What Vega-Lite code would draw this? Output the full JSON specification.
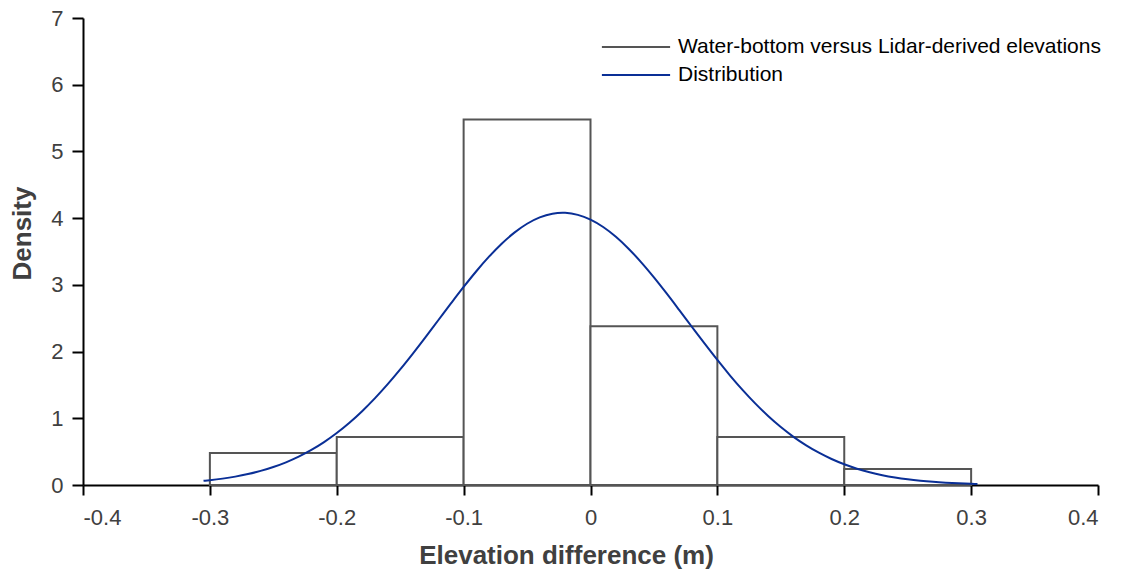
{
  "$schema": "https://vega.github.io/schema/vega-lite/v6.json",
  "autosize": "none",
  "width": 1015,
  "height": 467,
  "padding": {"left": 83, "top": 18, "right": 23, "bottom": 87},
  "background": "white",
  "config": {
    "view": {"stroke": null},
    "font": "Liberation Sans",
    "axis": {
      "grid": false,
      "domainColor": "#000000",
      "domainWidth": 2,
      "tickColor": "#000000",
      "tickWidth": 2,
      "labelFont": "Liberation Sans",
      "labelFontSize": 22,
      "labelColor": "#404040",
      "titleFont": "Liberation Sans",
      "titleFontSize": 26,
      "titleFontWeight": "bold",
      "titleColor": "#404040"
    },
    "legend": {
      "labelFont": "Liberation Sans",
      "labelFontSize": 21,
      "labelColor": "#000000",
      "labelLimit": 600
    }
  },
  "datasets": {
    "bins": [
      {"bin_start": -0.3, "bin_end": -0.2, "density": 0.48},
      {"bin_start": -0.2, "bin_end": -0.1, "density": 0.72},
      {"bin_start": -0.1, "bin_end": 0.0, "density": 5.48},
      {"bin_start": 0.0, "bin_end": 0.1, "density": 2.38},
      {"bin_start": 0.1, "bin_end": 0.2, "density": 0.72},
      {"bin_start": 0.2, "bin_end": 0.3, "density": 0.24}
    ],
    "curve": [
      {"x": -0.305, "density": 0.0620},
      {"x": -0.30, "density": 0.0718},
      {"x": -0.29, "density": 0.0955},
      {"x": -0.28, "density": 0.1257},
      {"x": -0.27, "density": 0.1638},
      {"x": -0.26, "density": 0.2112},
      {"x": -0.25, "density": 0.2694},
      {"x": -0.24, "density": 0.3401},
      {"x": -0.23, "density": 0.4250},
      {"x": -0.22, "density": 0.5256},
      {"x": -0.21, "density": 0.6431},
      {"x": -0.20, "density": 0.7787},
      {"x": -0.19, "density": 0.9329},
      {"x": -0.18, "density": 1.1063},
      {"x": -0.17, "density": 1.2984},
      {"x": -0.16, "density": 1.5076},
      {"x": -0.15, "density": 1.7326},
      {"x": -0.14, "density": 1.9704},
      {"x": -0.13, "density": 2.2176},
      {"x": -0.12, "density": 2.4696},
      {"x": -0.11, "density": 2.7216},
      {"x": -0.10, "density": 2.9686},
      {"x": -0.09, "density": 3.2040},
      {"x": -0.08, "density": 3.4221},
      {"x": -0.07, "density": 3.6170},
      {"x": -0.06, "density": 3.7833},
      {"x": -0.05, "density": 3.9162},
      {"x": -0.04, "density": 4.0115},
      {"x": -0.03, "density": 4.0664},
      {"x": -0.022, "density": 4.0800},
      {"x": -0.02, "density": 4.0791},
      {"x": -0.01, "density": 4.0494},
      {"x": 0.00, "density": 3.9781},
      {"x": 0.01, "density": 3.8674},
      {"x": 0.02, "density": 3.7206},
      {"x": 0.03, "density": 3.5422},
      {"x": 0.04, "density": 3.3373},
      {"x": 0.05, "density": 3.1116},
      {"x": 0.06, "density": 2.8709},
      {"x": 0.07, "density": 2.6212},
      {"x": 0.08, "density": 2.3685},
      {"x": 0.09, "density": 2.1178},
      {"x": 0.10, "density": 1.8738},
      {"x": 0.11, "density": 1.6409},
      {"x": 0.12, "density": 1.4220},
      {"x": 0.13, "density": 1.2194},
      {"x": 0.14, "density": 1.0348},
      {"x": 0.15, "density": 0.8689},
      {"x": 0.16, "density": 0.7222},
      {"x": 0.17, "density": 0.5939},
      {"x": 0.18, "density": 0.4835},
      {"x": 0.19, "density": 0.3893},
      {"x": 0.20, "density": 0.3103},
      {"x": 0.21, "density": 0.2447},
      {"x": 0.22, "density": 0.1910},
      {"x": 0.23, "density": 0.1476},
      {"x": 0.24, "density": 0.1128},
      {"x": 0.25, "density": 0.0853},
      {"x": 0.26, "density": 0.0639},
      {"x": 0.27, "density": 0.0473},
      {"x": 0.28, "density": 0.0347},
      {"x": 0.29, "density": 0.0252},
      {"x": 0.30, "density": 0.0181},
      {"x": 0.305, "density": 0.0153}
    ]
  },
  "layer": [
    {
      "data": {"name": "bins"},
      "mark": {"type": "rect", "fill": "white", "strokeWidth": 2},
      "encoding": {
        "x": {
          "field": "bin_start",
          "type": "quantitative",
          "scale": {"domain": [-0.4, 0.4], "nice": false, "zero": false},
          "axis": {
            "title": "Elevation difference (m)",
            "values": [-0.4, -0.3, -0.2, -0.1, 0, 0.1, 0.2, 0.3, 0.4],
            "labelExpr": "datum.value == 0 ? '0' : (datum.value < 0 ? '-' + format(-datum.value, '.1f') : format(datum.value, '.1f'))",
            "tickSize": 10,
            "labelPadding": 12,
            "titleX": 483,
            "titleY": 78,
            "titleBaseline": "alphabetic",
            "titleAlign": "center"
          }
        },
        "x2": {"field": "bin_end"},
        "y": {
          "field": "density",
          "type": "quantitative",
          "scale": {"domain": [0, 7], "nice": false},
          "axis": {
            "title": "Density",
            "values": [0, 1, 2, 3, 4, 5, 6, 7],
            "format": "d",
            "tickSize": 11,
            "labelPadding": 9,
            "titleX": -53,
            "titleY": 215,
            "titleAngle": -90,
            "titleAlign": "center",
            "titleBaseline": "alphabetic"
          }
        },
        "y2": {"datum": 0},
        "stroke": {
          "datum": "Water-bottom versus Lidar-derived elevations",
          "type": "nominal",
          "scale": {
            "domain": ["Water-bottom versus Lidar-derived elevations", "Distribution"],
            "range": ["#555555", "#0a2f96"]
          },
          "legend": {
            "title": null,
            "orient": "none",
            "legendX": 541,
            "legendY": 17,
            "symbolType": "M-3.1,0H3.1",
            "symbolSize": 484,
            "symbolStrokeWidth": 2,
            "labelOffset": 30,
            "rowPadding": 6
          }
        }
      }
    },
    {
      "data": {"name": "curve"},
      "mark": {"type": "line", "strokeWidth": 2, "interpolate": "monotone"},
      "encoding": {
        "x": {"field": "x", "type": "quantitative"},
        "y": {"field": "density", "type": "quantitative"},
        "stroke": {"datum": "Distribution", "type": "nominal"}
      }
    }
  ]
}
